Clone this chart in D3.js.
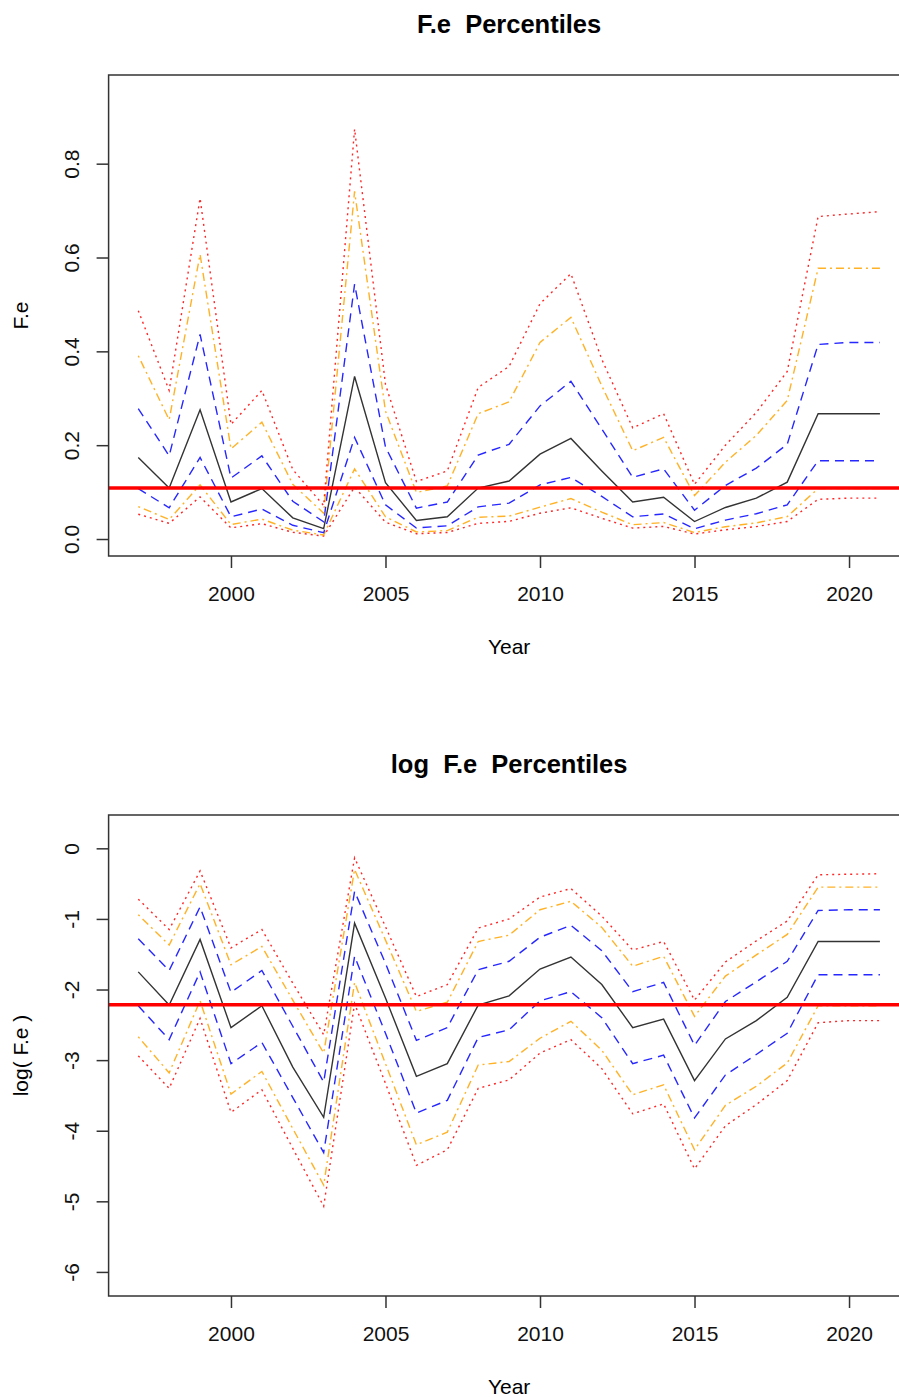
<!DOCTYPE html>
<html>
<head>
<meta charset="utf-8">
<script src="https://cdn.jsdelivr.net/npm/d3@7"></script>
<style>
  body { margin: 0; background: #fff; }
  svg { display: block; font-family: "Liberation Sans", Arial, sans-serif; }
  .title { font-weight: bold; font-size: 25.5px; white-space: pre; }
  .axis-title { font-size: 21px; white-space: pre; }
</style>
</head>
<body>
<svg id="chart" width="899" height="1397"></svg>
<script>
// years on the x axis
var years = d3.range(1997, 2022);

// log(F.e) percentiles, one value per year
var redLow   = [-2.94, -3.40, -2.41, -3.74, -3.42, -4.25, -5.07, -2.20, -3.33, -4.49, -4.27, -3.40, -3.28, -2.90, -2.71, -3.12, -3.76, -3.62, -4.54, -3.93, -3.63, -3.29, -2.47, -2.44, -2.44];
var orangeLow = [-2.67, -3.18, -2.16, -3.48, -3.16, -3.97, -4.77, -1.90, -3.05, -4.20, -4.02, -3.07, -3.02, -2.69, -2.45, -2.86, -3.49, -3.35, -4.27, -3.64, -3.37, -3.04, -2.23, -2.23, -2.23];
var blueLow  = [-2.23, -2.71, -1.75, -3.05, -2.75, -3.53, -4.31, -1.53, -2.62, -3.75, -3.57, -2.68, -2.57, -2.16, -2.03, -2.40, -3.05, -2.93, -3.82, -3.21, -2.92, -2.62, -1.79, -1.79, -1.79];
var median   = [-1.75, -2.22, -1.29, -2.54, -2.23, -3.10, -3.81, -1.06, -2.12, -3.23, -3.05, -2.22, -2.09, -1.71, -1.54, -1.93, -2.54, -2.42, -3.29, -2.70, -2.44, -2.11, -1.32, -1.32, -1.32];
var blueHigh = [-1.28, -1.73, -0.83, -2.04, -1.73, -2.52, -3.31, -0.61, -1.63, -2.72, -2.54, -1.72, -1.60, -1.26, -1.09, -1.45, -2.03, -1.90, -2.79, -2.17, -1.89, -1.60, -0.88, -0.87, -0.87];
var orangeHigh = [-0.94, -1.37, -0.50, -1.65, -1.39, -2.15, -2.90, -0.30, -1.30, -2.31, -2.18, -1.32, -1.23, -0.87, -0.75, -1.12, -1.67, -1.53, -2.38, -1.81, -1.51, -1.22, -0.55, -0.55, -0.55];
var redHigh  = [-0.72, -1.15, -0.32, -1.41, -1.15, -1.91, -2.64, -0.135, -1.11, -2.10, -1.93, -1.13, -1.00, -0.69, -0.57, -0.96, -1.44, -1.32, -2.15, -1.61, -1.31, -1.03, -0.375, -0.367, -0.36];

// reference level of F.e (red horizontal line)
var refF = 0.109;

var xTicks = [2000, 2005, 2010, 2015, 2020];
var yTicksTop = [0, 0.2, 0.4, 0.6, 0.8];
var yTicksBottom = [0, -1, -2, -3, -4, -5, -6];

var series = [
  {values: redLow, color: "#ff0000", dash: "2,4"},
  {values: orangeLow, color: "#ffa500", dash: "2,4,8,4"},
  {values: blueLow, color: "#0000ff", dash: "9,6"},
  {values: median, color: "#000000", dash: null},
  {values: blueHigh, color: "#0000ff", dash: "9,6"},
  {values: orangeHigh, color: "#ffa500", dash: "2,4,8,4"},
  {values: redHigh, color: "#ff0000", dash: "2,4"}
];

var svg = d3.select("#chart");

var plotLeft = 108.6, plotRight = 909.6;

var xScale = d3.scaleLinear().domain([1996.04, 2021.96]).range([plotLeft, plotRight]);

function drawPanel(cfg){
  var yScale = d3.scaleLinear().domain(cfg.yDomain).range([cfg.bottom, cfg.top]);
  var g = svg.append("g");

  // title
  g.append("text")
    .attr("class", "title")
    .attr("x", (plotLeft + plotRight) / 2)
    .attr("y", cfg.titleY)
    .attr("text-anchor", "middle")
    .text(cfg.title);

  // percentile lines
  var line = d3.line()
    .x(function(d, i){ return xScale(years[i]); })
    .y(function(d){ return yScale(cfg.transform(d)); });

  series.forEach(function(s){
    g.append("path")
      .datum(s.values)
      .attr("d", line)
      .attr("fill", "none")
      .attr("stroke", s.color)
      .attr("stroke-width", 1.4)
      .attr("stroke-dasharray", s.dash)
      .attr("opacity", s.color == "#000000" ? 0.8 : 0.85);
  });

  // reference line
  g.append("line")
    .attr("x1", plotLeft)
    .attr("x2", plotRight)
    .attr("y1", yScale(cfg.ref))
    .attr("y2", yScale(cfg.ref))
    .attr("stroke", "#ff0000")
    .attr("stroke-width", 3.5);

  // box
  g.append("rect")
    .attr("x", plotLeft)
    .attr("y", cfg.top)
    .attr("width", plotRight - plotLeft)
    .attr("height", cfg.bottom - cfg.top)
    .attr("fill", "none")
    .attr("stroke", "#333")
    .attr("stroke-width", 1.5);

  // x axis
  var xAxis = g.append("g")
    .attr("transform", "translate(0," + cfg.bottom + ")")
    .call(d3.axisBottom(xScale).tickValues(xTicks).tickSize(12).tickSizeOuter(0).tickPadding(18).tickFormat(function(d){ return String(d); }));
  xAxis.select(".domain").remove();
  xAxis.selectAll(".tick line").attr("stroke", "#333").attr("stroke-width", 1.5);
  xAxis.selectAll("text")
    .attr("fill", "#111")
    .style("font-size", "21px")
    .style("font-family", "Liberation Sans, Arial, sans-serif");

  // y axis with rotated labels
  var yAxis = g.append("g")
    .attr("transform", "translate(" + plotLeft + ",0)")
    .call(d3.axisLeft(yScale).tickValues(cfg.yTicks).tickSize(12).tickSizeOuter(0).tickFormat(cfg.yFormat));
  yAxis.select(".domain").remove();
  yAxis.selectAll(".tick line").attr("stroke", "#333").attr("stroke-width", 1.5);
  yAxis.selectAll("text")
    .attr("x", null)
    .attr("dy", null)
    .attr("transform", "translate(-30,0) rotate(-90)")
    .attr("text-anchor", "middle")
    .attr("fill", "#111")
    .style("font-size", "21px")
    .style("font-family", "Liberation Sans, Arial, sans-serif");

  // axis titles
  g.append("text")
    .attr("class", "axis-title")
    .attr("x", (plotLeft + plotRight) / 2)
    .attr("y", cfg.bottom + 98)
    .attr("text-anchor", "middle")
    .text("Year");

  g.append("text")
    .attr("class", "axis-title")
    .attr("transform", "translate(28," + ((cfg.top + cfg.bottom) / 2) + ") rotate(-90)")
    .attr("text-anchor", "middle")
    .text(cfg.yLabel);
}

drawPanel({
  title: "F.e  Percentiles",
  titleY: 33,
  top: 75,
  bottom: 556,
  yDomain: [-0.0362, 0.989],
  yTicks: yTicksTop,
  yFormat: function(d){ return d.toFixed(1); },
  yLabel: "F.e",
  ref: refF,
  transform: function(v){ return Math.exp(v); }
});

drawPanel({
  title: "log  F.e  Percentiles",
  titleY: 773,
  top: 815,
  bottom: 1296,
  yDomain: [-6.341, 0.472],
  yTicks: yTicksBottom,
  yFormat: function(d){ return String(d); },
  yLabel: "log( F.e )",
  ref: Math.log(refF),
  transform: function(v){ return v; }
});
</script>
</body>
</html>
